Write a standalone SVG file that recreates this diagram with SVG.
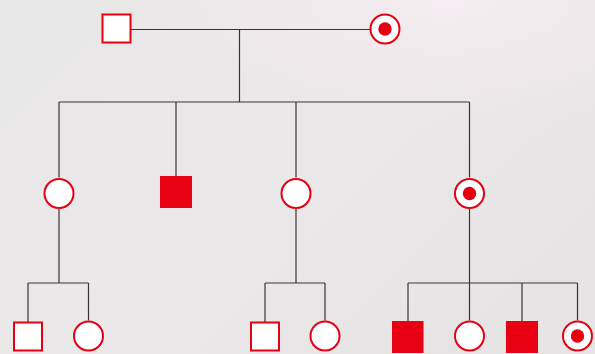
<svg xmlns="http://www.w3.org/2000/svg" width="595" height="354" viewBox="0 0 595 354">
<defs>
<linearGradient id="bg" x1="0" y1="0" x2="1" y2="0.6">
<stop offset="0" stop-color="#e8e7e7"/>
<stop offset="0.55" stop-color="#ebe8e9"/>
<stop offset="1" stop-color="#e6e4e4"/>
</linearGradient>
<radialGradient id="pink" cx="0.75" cy="0" r="0.6" gradientTransform="scale(1,1)">
<stop offset="0" stop-color="#f6eef2" stop-opacity="1"/>
<stop offset="0.6" stop-color="#f1e9ec" stop-opacity="0.6"/>
<stop offset="1" stop-color="#e8e7e7" stop-opacity="0"/>
</radialGradient>
</defs>
<style>
.ln{stroke:#3a3434;stroke-width:1.2;fill:none}
.m{fill:#ffffff;stroke:#e60012;stroke-width:2}
.mf{fill:#e60012}
.f{fill:#ffffff;stroke:#e60012;stroke-width:2}
.dot{fill:#e60012}
</style>
<rect width="595" height="354" fill="url(#bg)"/>
<rect width="595" height="230" fill="url(#pink)"/>
<g id="connectors">
<path class="ln" d="M131 29.5H370M239.5 29.5V102M59 102H469.5M59 102V177.5M176 102V176M296 102V177.5M469.5 102V177.5"/>
<path class="ln" d="M59 209V283M28 283H88.5M28 283V322M88.5 283V320.5"/>
<path class="ln" d="M296 209V283M265 283H325M265 283V322M325 283V320.5"/>
<path class="ln" d="M469.5 209V283M408 283H577.5M408 283V321M469.5 283V320.5M522 283V321M577.5 283V320.5"/>
</g>
<g id="grandfather"><rect class="m" x="102.5" y="14.5" width="28" height="28"/></g>
<g id="grandmother"><circle class="f" cx="385" cy="29" r="14.5"/><circle class="dot" cx="385" cy="29" r="6.7"/></g>
<g id="daughter1"><circle class="f" cx="59" cy="193.5" r="14.5"/></g>
<g id="son1"><rect class="mf" x="160" y="176" width="32" height="32"/></g>
<g id="daughter2"><circle class="f" cx="296" cy="193.5" r="14.5"/></g>
<g id="daughter3"><circle class="f" cx="469.5" cy="193.5" r="14.5"/><circle class="dot" cx="469.5" cy="193.5" r="6.7"/></g>
<g id="g3a"><rect class="m" x="14" y="322.5" width="28" height="28"/></g>
<g id="g3b"><circle class="f" cx="88.5" cy="336" r="14.5"/></g>
<g id="g3c"><rect class="m" x="251" y="322.5" width="28" height="28"/></g>
<g id="g3d"><circle class="f" cx="325" cy="336" r="14.5"/></g>
<g id="g3e"><rect class="mf" x="392" y="321" width="31.5" height="32"/></g>
<g id="g3f"><circle class="f" cx="469.5" cy="336" r="14.5"/></g>
<g id="g3g"><rect class="mf" x="506" y="321" width="32" height="32"/></g>
<g id="g3h"><circle class="f" cx="577.5" cy="336" r="14.5"/><circle class="dot" cx="577.5" cy="336" r="6.7"/></g>
</svg>
